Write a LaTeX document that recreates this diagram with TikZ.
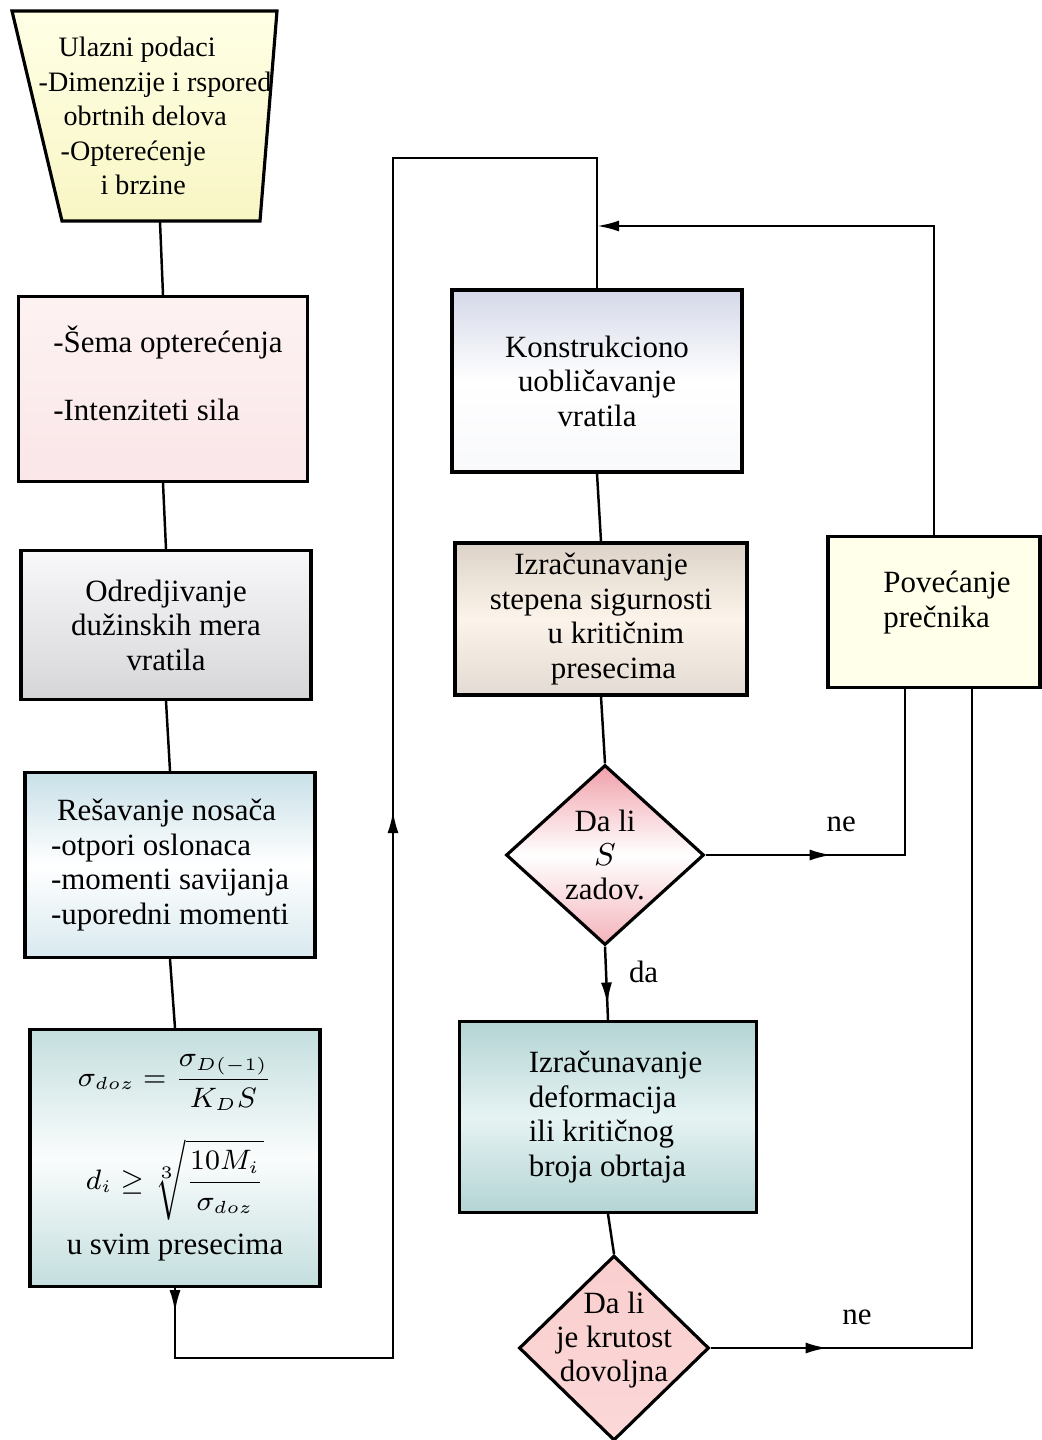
\documentclass[tikz,border=0pt]{standalone}
\usepackage{fontspec}
\setmainfont{Liberation Serif}
\usepackage{amsmath}
\usetikzlibrary{shapes.geometric,arrows.meta,decorations.markings}

\definecolor{trapA}{RGB}{255,255,230}
\definecolor{trapB}{RGB}{248,246,196}
\definecolor{pinkA}{RGB}{253,242,242}
\definecolor{pinkB}{RGB}{250,230,232}
\definecolor{grayA}{RGB}{248,248,250}
\definecolor{grayB}{RGB}{214,214,216}
\definecolor{blueA}{RGB}{200,224,232}
\definecolor{tealA}{RGB}{196,222,222}
\definecolor{lavA}{RGB}{212,216,232}
\definecolor{tanA}{RGB}{220,210,200}
\definecolor{tanB}{RGB}{252,244,234}
\definecolor{creamA}{RGB}{255,255,234}
\definecolor{tealB}{RGB}{180,212,212}
\definecolor{tealC}{RGB}{230,243,243}
\definecolor{roseA}{RGB}{240,160,170}
\definecolor{roseB}{RGB}{250,206,206}

\tikzset{
  box/.style={draw, line width=0.9pt, align=center, inner sep=1mm},
  decision/.style={draw, diamond, aspect=1, line width=0.9pt, align=center, inner sep=-1.5mm},
  line/.style={line width=0.7pt},
  arrowat/.style={postaction={decorate, decoration={markings,
      mark=at position #1 with {\arrow{Latex[length=2.2mm,width=1.1mm]}}}}}
}
\newcommand{\mathsm}[1]{{\fontsize{7.6}{9.8}\selectfont$#1$}}

\begin{document}
\begin{tikzpicture}[x=0.1mm, y=-0.1mm, font=\fontsize{8.8}{9.8}\selectfont]
    \useasboundingbox (0,0) rectangle (1042,1440);

    \draw[line width=0.9pt, top color=trapA, bottom color=trapB]
        (12,11) -- (277,11) -- (260,221) -- (62,221) -- cycle;
    \node[align=left, minimum height=21mm, inner sep=0pt, font=\fontsize{8}{9.8}\selectfont] (trap) at (155,116)
        {\hspace*{2mm}Ulazni podaci\\-Dimenzije i rspored\\\hspace*{2.5mm}obrtnih delova\\\hspace*{2.2mm}-Opterećenje\\\hspace*{6.2mm}i brzine};

    \node[box, minimum width=28.9mm, minimum height=18.5mm, top color=pinkA, bottom color=pinkB, align=left]
        (b1) at (163,389) {\hspace*{1mm}-Šema opterećenja\\[3.4mm]\hspace*{1mm}-Intenziteti sila\\[-0.3mm]};
    \node[box, minimum width=29mm, minimum height=14.9mm, top color=grayA, bottom color=grayB]
        (b2) at (166,625) {Odredjivanje\\dužinskih mera\\vratila};
    \node[box, minimum width=29mm, minimum height=18.5mm, top color=blueA, bottom color=blueA!70, middle color=white, align=left]
        (b3) at (170,865) {\hspace*{0.6mm}Rešavanje nosača\\-otpori oslonaca\\-momenti savijanja\\-uporedni momenti};
    \node[box, minimum width=29mm, minimum height=25.7mm, top color=tealA, bottom color=tealA, middle color=white!92!tealA]
        (b4) at (175,1158) {\mathsm{\sigma_{doz}=\dfrac{\sigma_{D(-1)}}{K_D S}}\\[2.5mm]
        \mathsm{d_i\geq\sqrt[3]{\dfrac{10M_i}{\sigma_{doz}}}}\\[1mm]u svim presecima};

    \node[box, minimum width=29mm, minimum height=18.2mm, top color=lavA, bottom color=white!85!lavA, middle color=white]
        (b5) at (597,381) {Konstrukciono\\uobličavanje\\vratila};
    \node[box, minimum width=29.2mm, minimum height=15.2mm, top color=tanA, bottom color=tanA!80, middle color=tanB]
        (b6) at (601,619) {Izračunavanje\\stepena sigurnosti\\\hspace*{3mm}u kritičnim\\\hspace*{2.5mm}presecima};
    \node[decision, minimum width=19.8mm, minimum height=18mm, top color=roseA, bottom color=roseA!80, middle color=white]
        (d1) at (605,855) {Da li\\$S$\\zadov.};
    \node[box, minimum width=29.7mm, minimum height=19.1mm, top color=tealB, bottom color=tealB, middle color=tealC, align=left]
        (b8) at (608,1117) {\hspace*{1.5mm}Izračunavanje\\\hspace*{1.5mm}deformacija\\\hspace*{1.5mm}ili kritičnog\\\hspace*{1.5mm}broja obrtaja};
    \node[decision, minimum width=19mm, minimum height=18.5mm, top color=roseB, bottom color=roseB!80]
        (d2) at (614,1348) {Da li\\je krutost\\dovoljna\\[-1.2mm]};

    \node[box, minimum width=21.2mm, minimum height=15.1mm, fill=creamA, align=left]
        (b7) at (934,612) {\hspace*{2.6mm}Povećanje\\\hspace*{2.6mm}prečnika\\[-0.9mm]};

    \coordinate (j1) at (597,226);

    \draw[line] ([xshift=0.5mm]trap.south) -- (b1.north);
    \draw[line] (b1.south) -- (b2.north);
    \draw[line] (b2.south) -- (b3.north);
    \draw[line] (b3.south) -- (b4.north);
    \draw[line, arrowat=2.4mm, arrowat=83.5mm] (b4.south) -- ++(0,70) -| (393,158) -| (b5.north);
    \draw[line] (b5.south) -- (b6.north);
    \draw[line] (b6.south) -- (d1.north);
    \draw[line, arrowat=5.8mm] (d1.south) -- (b8.north) node[pos=0.35, right=1mm] {da};
    \draw[line] (b8.south) -- (d2.north);
    \draw[line, arrowat=12.6mm] (d1.east) -| ([xshift=-2.9mm]b7.south) node[pos=0.34, above=1mm] {ne};
    \draw[line, arrowat=11.7mm] (d2.east) -| ([xshift=3.8mm]b7.south) node[pos=0.28, above=1mm] {ne};
    \draw[line, -{Latex[length=2.2mm,width=1.1mm]}] (b7.north) |- (j1);
\end{tikzpicture}
\end{document}
